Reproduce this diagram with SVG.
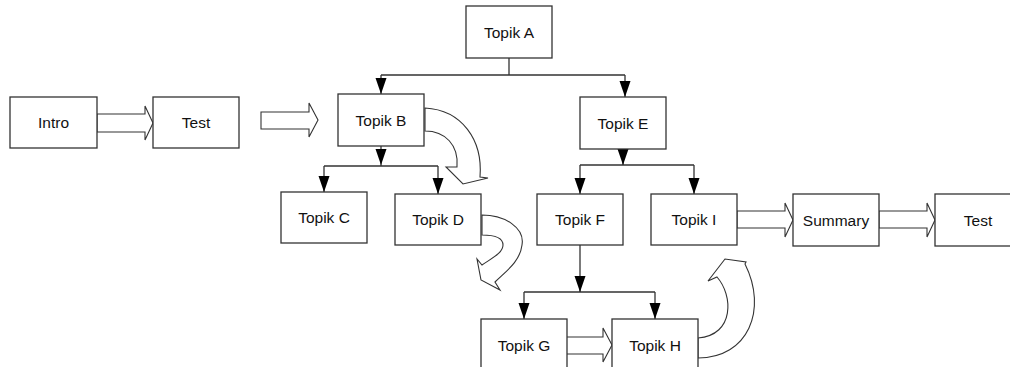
<svg xmlns="http://www.w3.org/2000/svg" width="1010" height="367" viewBox="0 0 1010 367">
<defs>
<style>
.box{fill:#fff;stroke:#333;stroke-width:1.3}
.lbl{font-family:"Liberation Sans",Arial,sans-serif;font-size:15.5px;fill:#111;text-anchor:middle}
.ln{fill:none;stroke:#333;stroke-width:1.3}
.blk{fill:#fff;stroke:#333;stroke-width:1.1;stroke-linejoin:miter}
.hd{fill:#000}
</style>
</defs>
<rect width="1010" height="367" fill="#fff"/>
<g id="connectors">
<path class="ln" d="M509,58 V75 M381,75 H625 M381,75 V94 M625,75 V97"/>
<polygon class="hd" points="375.5,78 386.5,78 381,94"/>
<polygon class="hd" points="619.5,81 630.5,81 625,97"/>
<path class="ln" d="M324,166 H438 M580,165 H694 M524,292 H655"/>
<path class="ln" d="M381,146 V166"/>
<polygon class="hd" points="375.5,149 386.5,149 381,165"/>
<path class="ln" d="M324,166 V192 M438,166 V194"/>
<polygon class="hd" points="318.5,176 329.5,176 324,192"/>
<polygon class="hd" points="432.5,178 443.5,178 438,194"/>
<path class="ln" d="M623,149 V165"/>
<polygon class="hd" points="617.5,149 628.5,149 623,165"/>
<path class="ln" d="M580,165 V194 M694,165 V194"/>
<polygon class="hd" points="574.5,178 585.5,178 580,194"/>
<polygon class="hd" points="688.5,178 699.5,178 694,194"/>
<path class="ln" d="M580,245 V292"/>
<polygon class="hd" points="574.5,276 585.5,276 580,292"/>
<path class="ln" d="M524,292 V319 M655,292 V319"/>
<polygon class="hd" points="518.5,303 529.5,303 524,319"/>
<polygon class="hd" points="649.5,303 660.5,303 655,319"/>
<polygon class="blk" points="97,114 145,114 145,106 153,123 145,140 145,132 97,132"/>
<polygon class="blk" points="261,112 309,112 309,103 318,120 309,137 309,129 261,129"/>
<polygon class="blk" points="737,211 785,211 785,203 793,220 785,237 785,228 737,228"/>
<polygon class="blk" points="879,211 927,211 927,203 935,220 927,237 927,228 879,228"/>
<polygon class="blk" points="566,337 603,337 603,328 612,345 603,362 603,354 566,354"/>
<path class="blk" d="M425,108 C462,110 483,140 480,177 L488,178 L463,184 L446,167 L457,167 C459,145 445,131 425,131 Z"/>
<path class="blk" d="M482,215 C505,215 525,228 522,245 C520,262 505,272 495,282 L500,290 L481,280 L477,259 L482,265 C492,258 503,253 503,245 C503,238 495,235 482,235 Z"/>
<path class="blk" d="M698,358 C748,358 768,310 745,264 L746,262 L725,259 L708,281 L717,277 C733,295 735,335 698,338 Z"/>
</g>
<g id="intro"><rect class="box" x="10" y="97" width="87" height="51"/><text class="lbl" x="53.5" y="128">Intro</text></g>
<g id="test1"><rect class="box" x="153" y="97" width="86" height="51"/><text class="lbl" x="196" y="128">Test</text></g>
<g id="topikA"><rect class="box" x="466" y="6" width="86" height="52"/><text class="lbl" x="509" y="37.5">Topik A</text></g>
<g id="topikB"><rect class="box" x="338" y="94" width="86" height="52"/><text class="lbl" x="381" y="125.5">Topik B</text></g>
<g id="topikE"><rect class="box" x="580" y="97" width="86" height="52"/><text class="lbl" x="623" y="128.5">Topik E</text></g>
<g id="topikC"><rect class="box" x="281" y="192" width="86" height="51"/><text class="lbl" x="324" y="223">Topik C</text></g>
<g id="topikD"><rect class="box" x="395" y="194" width="86" height="51"/><text class="lbl" x="438" y="225">Topik D</text></g>
<g id="topikF"><rect class="box" x="537" y="194" width="86" height="51"/><text class="lbl" x="580" y="225">Topik F</text></g>
<g id="topikI"><rect class="box" x="651" y="194" width="86" height="51"/><text class="lbl" x="694" y="225">Topik I</text></g>
<g id="summary"><rect class="box" x="793" y="194" width="86" height="52"/><text class="lbl" x="836" y="225.5">Summary</text></g>
<g id="test2"><rect class="box" x="935" y="194" width="86" height="52"/><text class="lbl" x="978" y="225.5">Test</text></g>
<g id="topikG"><rect class="box" x="481" y="319" width="86" height="51"/><text class="lbl" x="524" y="351">Topik G</text></g>
<g id="topikH"><rect class="box" x="612" y="319" width="86" height="51"/><text class="lbl" x="655" y="351">Topik H</text></g>
</svg>
